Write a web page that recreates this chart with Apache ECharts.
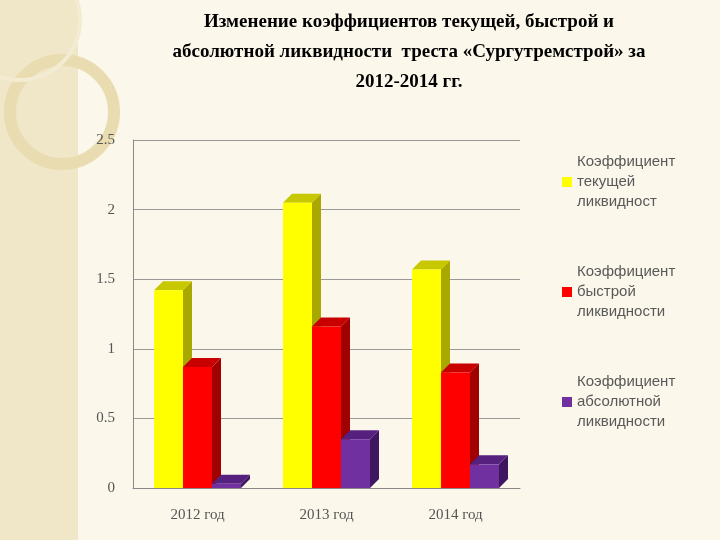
<!DOCTYPE html>
<html style="height: 100%">
<head><meta charset="utf-8"></head>
<body style="height: 100%; margin: 0">
<div id="container" style="width:720px;height:540px"></div>
<script src="https://cdn.jsdelivr.net/npm/echarts@6/dist/echarts.min.js"></script>
<script>
var categories = ['2012 год', '2013 год', '2014 год'];
var seriesNames = ['Коэффициент\nтекущей\nликвидност', 'Коэффициент\nбыстрой\nликвидности', 'Коэффициент\nабсолютной\nликвидности'];
var current = [1.42, 2.05, 1.57];
var quick = [0.87, 1.16, 0.83];
var absolute = [0.03, 0.35, 0.17];
var colors = [['#ffff00', '#c8c800', '#a8a800'], ['#ff0000', '#c80000', '#a00000'], ['#7030a0', '#56207e', '#3f1660']];

function make(name, data, idx) {
    return {
        name: name,
        type: 'custom',
        itemStyle: {color: colors[idx][0]},
        data: data.map(function (v, i) { return [i, v]; }),
        renderItem: function (params, api) {
            var base = api.coord([api.value(0), 0]);
            var top = api.coord([api.value(0), api.value(1)]);
            var w = 29, d = 9;
            var x0 = base[0] + (idx - 1.5) * w;
            var x1 = x0 + w;
            var c = colors[idx];
            return {
                type: 'group',
                children: [
                    {type: 'polygon', shape: {points: [[x1, base[1]], [x1 + d, base[1] - d], [x1 + d, top[1] - d], [x1, top[1]]]}, style: {fill: c[2]}},
                    {type: 'polygon', shape: {points: [[x0, top[1]], [x0 + d, top[1] - d], [x1 + d, top[1] - d], [x1, top[1]]]}, style: {fill: c[1]}},
                    {type: 'rect', shape: {x: x0, y: top[1], width: w, height: base[1] - top[1]}, style: {fill: c[0]}}
                ]
            };
        }
    };
}

var chart = echarts.init(document.getElementById('container'));
chart.setOption({
    backgroundColor: '#fbf7ea',
    animation: false,
    graphic: [
        {type: 'rect', shape: {x: 0, y: 0, width: 78, height: 540}, style: {fill: '#f0e7c8'}},
        {type: 'circle', shape: {cx: 62, cy: 112, r: 52}, style: {fill: 'none', stroke: '#e8dcb0', lineWidth: 12}},
        {type: 'circle', shape: {cx: 20, cy: 20, r: 60}, style: {fill: 'none', stroke: '#f3ecd2', lineWidth: 4}}
    ],
    title: {
        text: 'Изменение коэффициентов текущей, быстрой и\nабсолютной ликвидности  треста «Сургутремстрой» за\n2012-2014 гг.',
        left: 404, top: 2, textAlign: 'center',
        textStyle: {fontFamily: 'Liberation Serif', fontSize: 19, fontWeight: 'bold', color: '#000', lineHeight: 30}
    },
    legend: {
        orient: 'vertical', left: 557, top: 147, itemGap: 50, itemWidth: 10, itemHeight: 10,
        icon: 'rect',
        textStyle: {fontFamily: 'Liberation Sans', fontSize: 15, color: '#595959', lineHeight: 20},
        data: seriesNames
    },
    grid: {left: 133, right: 200, top: 140, bottom: 52},
    xAxis: {
        type: 'category', data: categories,
        axisLine: {lineStyle: {color: '#888'}}, axisTick: {show: false},
        axisLabel: {fontFamily: 'Liberation Serif', fontSize: 15, color: '#555', margin: 20}
    },
    yAxis: {
        type: 'value', min: 0, max: 2.5, interval: 0.5,
        axisLine: {show: true, lineStyle: {color: '#888'}},
        axisLabel: {fontFamily: 'Liberation Serif', fontSize: 15, color: '#555', margin: 18},
        splitLine: {lineStyle: {color: '#999'}}
    },
    series: [make(seriesNames[0], current, 0), make(seriesNames[1], quick, 1), make(seriesNames[2], absolute, 2)]
});
</script>
</body>
</html>
